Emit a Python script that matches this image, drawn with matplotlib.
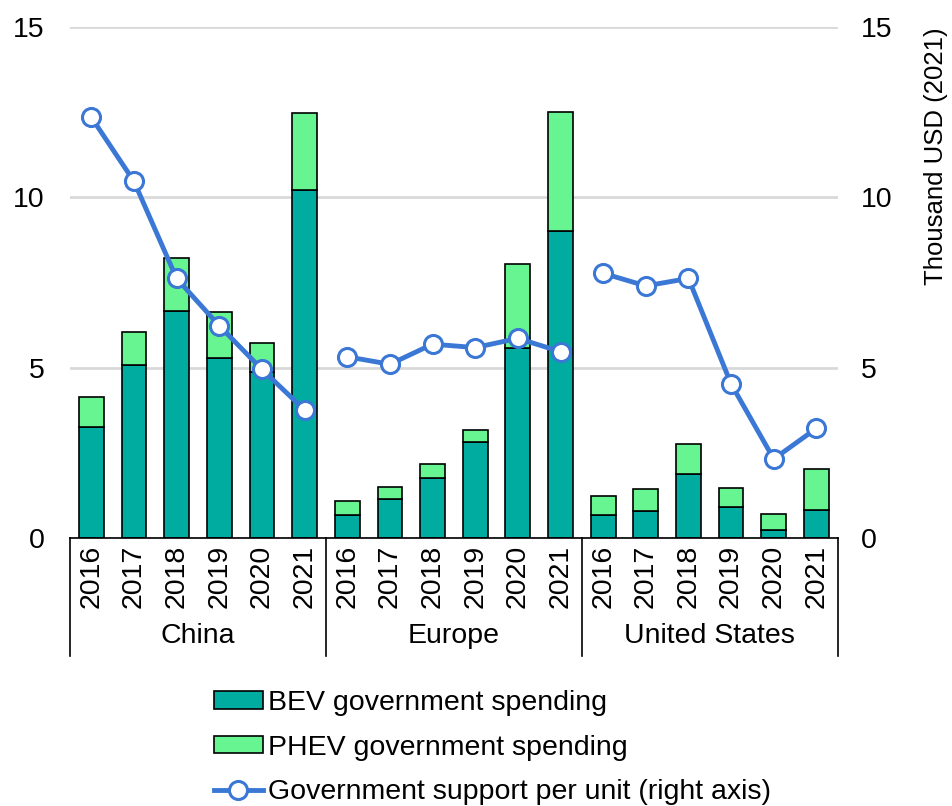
import matplotlib.pyplot as plt
import matplotlib.transforms as mtransforms
from matplotlib.patches import Patch
from matplotlib.lines import Line2D

plt.rcParams['font.family'] = ['Liberation Sans', 'DejaVu Sans']

# data
regions = ["China", "Europe", "United States"]
years = ["2016", "2017", "2018", "2019", "2020", "2021"]
bev = [3.25, 5.08, 6.65, 5.28, 4.86, 10.23,
       0.68, 1.14, 1.75, 2.81, 5.57, 9.01,
       0.68, 0.80, 1.87, 0.92, 0.23, 0.82]
phev = [0.90, 0.98, 1.58, 1.34, 0.86, 2.26,
        0.42, 0.35, 0.41, 0.36, 2.47, 3.49,
        0.56, 0.65, 0.88, 0.56, 0.47, 1.20]
support = [12.35, 10.47, 7.62, 6.23, 4.95, 3.76,
           5.32, 5.10, 5.69, 5.59, 5.86, 5.47,
           7.77, 7.40, 7.62, 4.52, 2.32, 3.22]

bev_color = "#00AB9F"
phev_color = "#66F590"
line_color = "#3B78D6"
fs = 20.5

fig = plt.figure(figsize=(9.52, 8.06), dpi=100)
ax = fig.add_axes([0.0735, 0.3325, 0.8065, 0.634])
n = len(bev)
x = list(range(n))

ax.bar(x, bev, width=0.58, color=bev_color, edgecolor="black", linewidth=1.2, zorder=2)
ax.bar(x, phev, width=0.58, bottom=bev, color=phev_color, edgecolor="black", linewidth=1.2, zorder=2)

ax.set_xlim(-0.5, n - 0.5)
ax.set_ylim(0, 15)
ax.set_yticks([0, 5, 10, 15])
ax.yaxis.grid(True, color="#D9D9D9", linewidth=2, zorder=0)
ax.set_axisbelow(True)
for s in ["top", "right", "left"]:
    ax.spines[s].set_visible(False)
ax.spines["bottom"].set_linewidth(1.2)
ax.tick_params(axis="y", length=0, pad=18, labelsize=fs)
ax.set_xticks([])

ax2 = ax.twinx()
ax2.set_ylim(0, 15)
ax2.set_yticks([0, 5, 10, 15])
ax2.tick_params(axis="y", length=0, pad=17, labelsize=fs)
for s in ax2.spines.values():
    s.set_visible(False)
ax2.set_ylabel("Thousand USD (2021)", fontsize=18.5, labelpad=22, loc="top")

for g in range(len(regions)):
    xs = x[g * 6:(g + 1) * 6]
    ys = support[g * 6:(g + 1) * 6]
    ax2.plot(xs, ys, color=line_color, linewidth=3.5, marker="o", markersize=13,
             markerfacecolor="white", markeredgecolor=line_color, markeredgewidth=2.2,
             zorder=3)

# category axis labels
trans = mtransforms.blended_transform_factory(ax.transData, ax.transAxes)
for i in range(n):
    ax.text(x[i], -0.013, years[i % 6], transform=trans, rotation=90,
            ha="center", va="top", fontsize=fs)
for g, name in enumerate(regions):
    ax.text(g * 6 + 2.5, -0.192, name, transform=trans, ha="center", va="center", fontsize=fs)
for b in [-0.5, 5.5, 11.5, 17.5]:
    ax.plot([b, b], [0, -0.23], transform=trans, color="black", linewidth=1.2, clip_on=False)

handles = [
    Patch(facecolor=bev_color, edgecolor="black", linewidth=1.2),
    Patch(facecolor=phev_color, edgecolor="black", linewidth=1.2),
    Line2D([0], [0], color=line_color, linewidth=3.5, marker="o", markersize=13,
           markerfacecolor="white", markeredgecolor=line_color, markeredgewidth=2.2),
]
labels = ["BEV government spending", "PHEV government spending",
          "Government support per unit (right axis)"]
fig.legend(handles, labels, loc="upper left", bbox_to_anchor=(0.213, 0.158),
           frameon=False, fontsize=fs, handlelength=1.7, handleheight=0.55,
           handletextpad=0.2, labelspacing=0.65, borderaxespad=0)

fig.savefig("out.png", dpi=100)
